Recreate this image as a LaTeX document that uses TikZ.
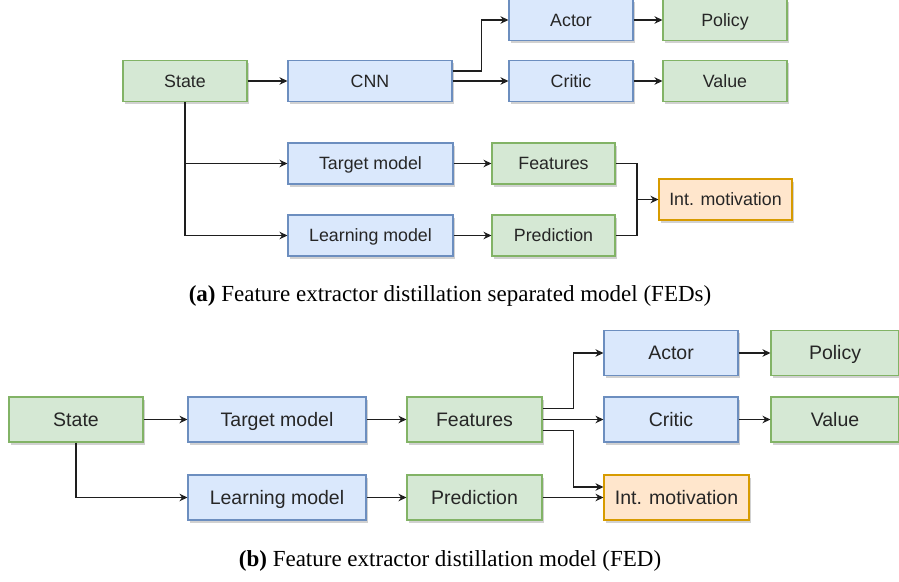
\documentclass[tikz,border=0pt]{standalone}
\usepackage{fontspec}
\setmainfont{Liberation Serif}
\newfontfamily\boxfont{Liberation Sans}
\usetikzlibrary{arrows.meta,shadows}

\definecolor{gfill}{HTML}{D5E8D4}
\definecolor{gline}{HTML}{82B366}
\definecolor{bfill}{HTML}{DAE8FC}
\definecolor{bline}{HTML}{6C8EBF}
\definecolor{ofill}{HTML}{FFE6CC}
\definecolor{oline}{HTML}{D79B00}
\definecolor{linec}{HTML}{1E1E1E}
\definecolor{textc}{HTML}{262626}

\tikzset{
  box/.style={draw, line width=1.1pt, inner sep=0pt, text=textc, text depth=0pt,
    drop shadow={shadow xshift=2pt, shadow yshift=-2.5pt, opacity=0.18, fill=black}},
  smallbox/.style={box, minimum height=41pt, text height=12.2pt,
    font=\boxfont\fontsize{17.8}{20}\selectfont},
  bigbox/.style={box, minimum height=45pt, text height=13.4pt,
    font=\boxfont\fontsize{19.5}{22}\selectfont},
  green/.style={fill=gfill, draw=gline},
  blue/.style={fill=bfill, draw=bline},
  orange/.style={fill=ofill, draw=oline},
  link/.style={draw=linec, line width=1.05pt, -{Stealth[length=8pt,width=7.5pt]}},
  plain/.style={draw=linec, line width=1.05pt},
  caption/.style={font=\fontsize{23}{26}\selectfont, text=black}
}

\begin{document}
\begin{tikzpicture}[x=1pt, y=-1pt]
\useasboundingbox (0,0) rectangle (899,581);

% ---------- (a) separated model ----------
\node[smallbox, green, minimum width=124pt] (sA) at (185,81) {State};
\node[smallbox, blue,  minimum width=164pt] (cnn) at (370,81) {CNN};
\node[smallbox, blue,  minimum width=124pt] (actA) at (571,20) {Actor};
\node[smallbox, green, minimum width=124pt] (polA) at (725,20) {Policy};
\node[smallbox, blue,  minimum width=124pt] (criA) at (571,81) {Critic};
\node[smallbox, green, minimum width=124pt] (valA) at (725,81) {Value};
\node[smallbox, blue,  minimum width=165pt] (tgtA) at (370.5,163.5) {Target model};
\node[smallbox, blue,  minimum width=165pt] (lrnA) at (370.5,235.5) {Learning model};
\node[smallbox, green, minimum width=123pt] (feaA) at (553.5,163.5) {Features};
\node[smallbox, green, minimum width=123pt] (preA) at (553.5,235.5) {Prediction};
\node[smallbox, orange, minimum width=133pt] (intA) at (725.5,199.5) {Int. motivation};

\draw[link] (sA) -- (cnn);
\draw[link] ([yshift=10pt]cnn.east) -- ++(29,0) |- (actA.west);
\draw[link] (cnn) -- (criA);
\draw[link] (actA) -- (polA);
\draw[link] (criA) -- (valA);
\draw[link] (sA.south) |- (tgtA.west);
\draw[link] (sA.south) |- (lrnA.west);
\draw[link] (tgtA) -- (feaA);
\draw[link] (lrnA) -- (preA);
\coordinate (joinA) at (637,199.5);
\draw[plain] (feaA.east) -| (joinA);
\draw[plain] (preA.east) -| (joinA);
\draw[link] (joinA) -- (intA.west);

\node[caption] (capA) at (450,296) {\textbf{(a)} Feature extractor distillation separated model (FEDs)};

% ---------- (b) shared feature model ----------
\node[bigbox, green, minimum width=134pt] (sB) at (76,419.5) {State};
\node[bigbox, blue,  minimum width=178pt] (tgtB) at (277,419.5) {Target model};
\node[bigbox, blue,  minimum width=178pt] (lrnB) at (277,497.5) {Learning model};
\node[bigbox, green, minimum width=135pt] (feaB) at (474.5,419.5) {Features};
\node[bigbox, green, minimum width=135pt] (preB) at (474.5,497.5) {Prediction};
\node[bigbox, blue,  minimum width=134pt] (actB) at (671,353) {Actor};
\node[bigbox, green, minimum width=128pt] (polB) at (835,353) {Policy};
\node[bigbox, blue,  minimum width=134pt] (criB) at (671,419.5) {Critic};
\node[bigbox, green, minimum width=128pt] (valB) at (835,419.5) {Value};
\node[bigbox, orange, minimum width=145pt] (intB) at (676.5,497.5) {Int. motivation};

\draw[link] (sB) -- (tgtB);
\draw[link] (sB.south) |- (lrnB.west);
\draw[link] (tgtB) -- (feaB);
\draw[link] (lrnB) -- (preB);
\draw[link] ([yshift=11pt]feaB.east) -- ++(31,0) |- (actB.west);
\draw[link] (feaB) -- (criB);
\draw[link] ([yshift=-11pt]feaB.east) -- ++(31,0) |- ([yshift=10.5pt]intB.west);
\draw[link] (preB) -- (intB);
\draw[link] (actB) -- (polB);
\draw[link] (criB) -- (valB);

\node[caption] (capB) at (450,561) {\textbf{(b)} Feature extractor distillation model (FED)};
\end{tikzpicture}
\end{document}
